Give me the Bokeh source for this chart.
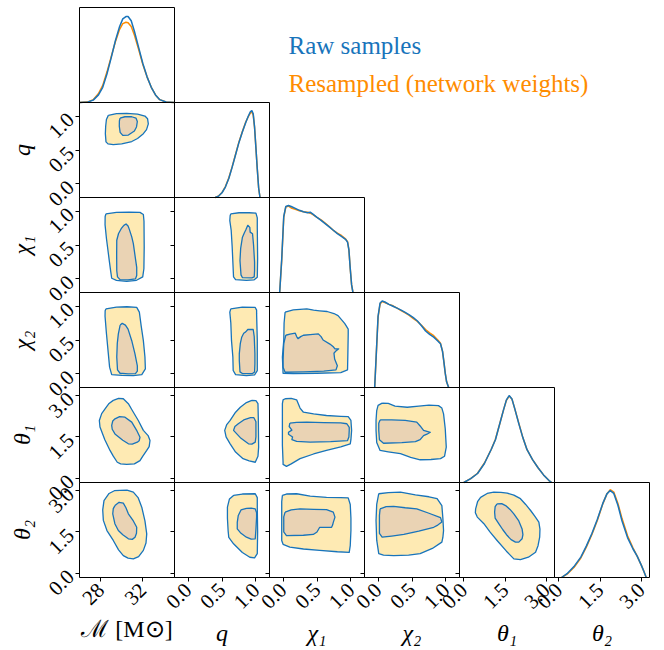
import math
from bokeh.plotting import figure
from bokeh.models import Range1d, LinearAxis, FixedTicker, PrintfTickFormatter, Label
from bokeh.embed import file_html
from bokeh.resources import INLINE

# ---------------- data ----------------
param_labels = ["ℳ [M⊙]", "q", "χ₁", "χ₂", "θ₁", "θ₂"]
param_ranges = [(26.0, 35.0), (-0.2, 1.2), (-0.2, 1.2), (-0.2, 1.2), (-0.157, 3.299), (-0.157, 3.299)]
param_ticks = [[28, 32], [0.0, 0.5, 1.0], [0.0, 0.5, 1.0], [0.0, 0.5, 1.0], [0.0, 1.5, 3.0], [0.0, 1.5, 3.0]]
tick_formats = ["%d", "%.1f", "%.1f", "%.1f", "%.1f", "%.1f"]
legend_labels = ["Raw samples", "Resampled (network weights)"]

# 1D marginals (normalised height)
mc_grid = [26.0, 26.8, 27.3, 27.8, 28.2, 28.6, 29.0, 29.4, 29.8, 30.1, 30.4, 30.6, 30.9, 31.2, 31.6, 32.0, 32.4, 32.8, 33.2, 33.6, 34.2, 35.0]
mc_raw = [0.0, 0.005, 0.025, 0.08, 0.16, 0.30, 0.47, 0.65, 0.80, 0.88, 0.905, 0.905, 0.86, 0.75, 0.58, 0.41, 0.27, 0.16, 0.08, 0.03, 0.005, 0.0]
mc_resampled = [0.0, 0.007, 0.03, 0.095, 0.18, 0.32, 0.48, 0.64, 0.77, 0.83, 0.845, 0.84, 0.80, 0.71, 0.56, 0.40, 0.27, 0.16, 0.08, 0.03, 0.005, 0.0]

q_grid = [0.40, 0.45, 0.50, 0.55, 0.60, 0.65, 0.70, 0.75, 0.80, 0.85, 0.89, 0.92, 0.94, 0.96, 0.98, 1.00, 1.02, 1.04, 1.06]
q_raw = [0.0, 0.015, 0.05, 0.11, 0.20, 0.32, 0.45, 0.58, 0.69, 0.79, 0.86, 0.905, 0.915, 0.88, 0.74, 0.52, 0.30, 0.10, 0.0]
q_resampled = [0.0, 0.016, 0.052, 0.115, 0.205, 0.325, 0.455, 0.585, 0.695, 0.795, 0.855, 0.89, 0.90, 0.87, 0.735, 0.52, 0.30, 0.10, 0.0]

chi1_grid = [-0.05, -0.02, 0.01, 0.04, 0.08, 0.12, 0.18, 0.24, 0.30, 0.36, 0.40, 0.44, 0.50, 0.56, 0.62, 0.68, 0.74, 0.80, 0.86, 0.92, 0.95, 0.97, 0.99, 1.01, 1.03]
chi1_raw = [0.0, 0.35, 0.80, 0.905, 0.915, 0.905, 0.885, 0.865, 0.85, 0.84, 0.845, 0.825, 0.79, 0.76, 0.725, 0.69, 0.655, 0.62, 0.59, 0.56, 0.53, 0.45, 0.25, 0.08, 0.0]
chi1_resampled = [0.0, 0.34, 0.79, 0.90, 0.91, 0.89, 0.875, 0.86, 0.85, 0.845, 0.835, 0.82, 0.79, 0.765, 0.73, 0.695, 0.655, 0.625, 0.60, 0.565, 0.535, 0.45, 0.25, 0.08, 0.0]

chi2_grid = [-0.05, -0.03, 0.0, 0.03, 0.06, 0.10, 0.16, 0.22, 0.28, 0.34, 0.40, 0.46, 0.52, 0.58, 0.64, 0.70, 0.76, 0.82, 0.88, 0.92, 0.95, 0.97, 0.99, 1.01, 1.04]
chi2_raw = [0.0, 0.30, 0.75, 0.89, 0.91, 0.90, 0.875, 0.855, 0.835, 0.815, 0.79, 0.765, 0.735, 0.70, 0.65, 0.595, 0.56, 0.53, 0.49, 0.46, 0.38, 0.27, 0.15, 0.06, 0.0]
chi2_resampled = [0.0, 0.29, 0.74, 0.88, 0.905, 0.895, 0.875, 0.86, 0.835, 0.81, 0.785, 0.76, 0.725, 0.695, 0.655, 0.61, 0.575, 0.545, 0.50, 0.465, 0.38, 0.27, 0.15, 0.06, 0.0]

theta1_grid = [0.0, 0.25, 0.5, 0.75, 1.0, 1.15, 1.3, 1.45, 1.55, 1.65, 1.75, 1.85, 2.0, 2.15, 2.3, 2.5, 2.7, 2.9, 3.1, 3.2]
theta1_raw = [0.0, 0.04, 0.095, 0.20, 0.35, 0.45, 0.61, 0.77, 0.87, 0.915, 0.88, 0.78, 0.62, 0.47, 0.345, 0.24, 0.155, 0.08, 0.02, 0.0]
theta1_resampled = [0.0, 0.04, 0.097, 0.205, 0.35, 0.455, 0.61, 0.77, 0.865, 0.91, 0.88, 0.78, 0.625, 0.47, 0.345, 0.24, 0.155, 0.08, 0.02, 0.0]

theta2_grid = [0.1, 0.3, 0.55, 0.8, 1.0, 1.2, 1.4, 1.6, 1.75, 1.87, 2.0, 2.15, 2.3, 2.5, 2.7, 2.85, 3.0, 3.1, 3.18]
theta2_raw = [0.0, 0.04, 0.115, 0.215, 0.33, 0.46, 0.61, 0.78, 0.88, 0.915, 0.885, 0.76, 0.595, 0.42, 0.30, 0.225, 0.13, 0.06, 0.0]
theta2_resampled = [0.0, 0.035, 0.105, 0.205, 0.32, 0.45, 0.60, 0.775, 0.88, 0.925, 0.90, 0.78, 0.62, 0.44, 0.31, 0.225, 0.13, 0.06, 0.0]

# 2D credible contours (x, y) - outer and inner levels
q_mc_outer = [(28.73, 1.01), (29.5, 1.035), (30.47, 1.04), (31.5, 1.03), (32.2, 1.0), (32.45, 0.96), (32.52, 0.885), (32.35, 0.80), (32.05, 0.74), (31.5, 0.67), (30.95, 0.625), (30.0, 0.59), (29.2, 0.58), (28.7, 0.59), (28.51, 0.62), (28.45, 0.74), (28.48, 0.85), (28.55, 0.95)]
q_mc_inner = [(29.84, 0.97), (30.3, 0.99), (30.95, 0.99), (31.35, 0.97), (31.48, 0.92), (31.4, 0.84), (31.2, 0.78), (30.63, 0.72), (30.1, 0.715), (29.85, 0.76), (29.77, 0.85), (29.78, 0.93)]

chi1_mc_outer = [(28.51, 0.96), (29.5, 0.98), (30.7, 0.985), (31.73, 0.98), (32.05, 0.95), (32.11, 0.85), (32.13, 0.47), (32.1, 0.15), (31.99, 0.03), (31.4, -0.02), (30.47, -0.035), (29.5, -0.02), (29.05, 0.01), (28.95, 0.12), (28.82, 0.27), (28.55, 0.60), (28.42, 0.80), (28.43, 0.92)]
chi1_mc_inner = [(30.2, 0.79), (30.41, 0.81), (30.6, 0.78), (30.72, 0.73), (30.95, 0.62), (31.1, 0.52), (31.3, 0.30), (31.42, 0.17), (31.42, 0.05), (31.3, 0.0), (30.6, -0.015), (29.84, -0.01), (29.6, 0.03), (29.53, 0.12), (29.52, 0.35), (29.53, 0.57), (29.7, 0.67), (29.95, 0.74)]
chi1_q_outer = [(0.63, 0.96), (0.75, 0.975), (0.90, 0.975), (1.0, 0.97), (1.02, 0.90), (1.02, 0.76), (1.025, 0.30), (1.02, 0.025), (0.97, -0.015), (0.86, -0.02), (0.70, -0.01), (0.67, 0.03), (0.66, 0.25), (0.65, 0.47), (0.635, 0.72), (0.615, 0.86), (0.62, 0.93)]
chi1_q_inner = [(0.85, 0.72), (0.88, 0.79), (0.91, 0.76), (0.915, 0.69), (0.95, 0.665), (0.965, 0.50), (0.98, 0.25), (0.98, 0.12), (0.975, 0.03), (0.94, 0.016), (0.80, 0.02), (0.78, 0.06), (0.765, 0.27), (0.775, 0.45), (0.80, 0.61), (0.83, 0.68)]

chi2_mc_outer = [(28.51, 0.96), (29.5, 0.985), (30.5, 0.99), (31.42, 0.98), (31.67, 0.91), (31.85, 0.70), (32.05, 0.49), (32.2, 0.25), (32.24, 0.075), (31.9, -0.01), (31.1, -0.025), (30.0, -0.02), (29.05, -0.01), (28.85, 0.10), (28.73, 0.30), (28.55, 0.60), (28.42, 0.85), (28.43, 0.93)]
chi2_mc_inner = [(29.85, 0.72), (30.05, 0.745), (30.35, 0.72), (30.6, 0.66), (30.95, 0.49), (31.25, 0.30), (31.48, 0.12), (31.48, 0.04), (31.3, 0.005), (30.6, 0.0), (29.84, 0.01), (29.6, 0.06), (29.53, 0.25), (29.58, 0.45), (29.68, 0.59)]
chi2_q_outer = [(0.63, 0.96), (0.80, 0.985), (0.99, 0.98), (1.01, 0.94), (1.01, 0.885), (1.02, 0.50), (1.02, 0.05), (0.98, -0.015), (0.86, -0.025), (0.70, -0.01), (0.665, 0.05), (0.66, 0.25), (0.64, 0.49), (0.63, 0.75), (0.615, 0.91)]
chi2_q_inner = [(0.85, 0.62), (0.88, 0.655), (0.96, 0.655), (0.975, 0.55), (0.985, 0.30), (0.985, 0.15), (0.98, 0.03), (0.95, 0.005), (0.80, 0.005), (0.765, 0.03), (0.755, 0.20), (0.755, 0.30), (0.77, 0.45), (0.79, 0.54), (0.82, 0.60)]
chi2_chi1_outer = [(0.03, 0.91), (0.15, 0.945), (0.35, 0.96), (0.45, 0.94), (0.54, 0.93), (0.65, 0.92), (0.75, 0.89), (0.81, 0.86), (0.87, 0.79), (0.91, 0.74), (0.96, 0.66), (0.96, 0.59), (0.955, 0.30), (0.95, 0.06), (0.85, 0.02), (0.50, 0.01), (0.15, 0.005), (0.0, 0.01), (-0.01, 0.25), (0.01, 0.49), (0.015, 0.75)]
chi2_chi1_inner = [(0.04, 0.57), (0.10, 0.585), (0.18, 0.60), (0.20, 0.55), (0.22, 0.52), (0.26, 0.55), (0.30, 0.57), (0.40, 0.58), (0.52, 0.59), (0.56, 0.55), (0.59, 0.50), (0.69, 0.44), (0.74, 0.40), (0.765, 0.37), (0.82, 0.37), (0.77, 0.33), (0.75, 0.305), (0.76, 0.22), (0.80, 0.12), (0.78, 0.06), (0.60, 0.04), (0.30, 0.03), (0.03, 0.025), (0.0, 0.10), (0.0, 0.20), (0.01, 0.45)]

theta1_mc_outer = [(29.2, 2.83), (29.7, 2.90), (30.15, 2.89), (30.63, 2.71), (30.95, 2.50), (31.57, 2.10), (32.05, 1.74), (32.5, 1.55), (32.68, 1.37), (32.6, 1.15), (32.37, 1.01), (32.0, 0.80), (31.73, 0.64), (31.2, 0.52), (30.47, 0.50), (29.9, 0.52), (29.58, 0.58), (29.2, 0.80), (28.89, 1.01), (28.4, 1.40), (27.94, 1.86), (27.88, 2.10), (28.1, 2.35), (28.42, 2.52), (28.8, 2.72)]
theta1_mc_inner = [(29.36, 2.16), (29.8, 2.24), (30.31, 2.22), (30.95, 2.04), (31.4, 1.75), (31.73, 1.49), (31.65, 1.36), (31.48, 1.31), (31.0, 1.24), (30.63, 1.25), (30.1, 1.38), (29.36, 1.61), (29.1, 1.78), (29.05, 1.92), (29.15, 2.08)]
theta1_q_outer = [(0.94, 2.83), (1.0, 2.82), (1.03, 2.71), (1.035, 2.20), (1.04, 1.13), (1.03, 0.80), (0.99, 0.58), (0.90, 0.63), (0.81, 0.71), (0.70, 0.95), (0.62, 1.25), (0.56, 1.50), (0.54, 1.74), (0.57, 1.95), (0.62, 2.10), (0.70, 2.40), (0.77, 2.58), (0.86, 2.75)]
theta1_q_inner = [(0.74, 1.98), (0.82, 2.12), (0.92, 2.20), (0.97, 2.20), (1.0, 2.05), (1.0, 1.86), (1.0, 1.50), (0.99, 1.31), (0.94, 1.24), (0.89, 1.25), (0.78, 1.45), (0.67, 1.74), (0.69, 1.88)]
theta1_chi1_outer = [(0.03, 2.89), (0.12, 2.90), (0.20, 2.85), (0.25, 2.55), (0.30, 2.40), (0.45, 2.34), (0.64, 2.28), (0.85, 2.25), (0.96, 2.24), (1.0, 2.10), (1.01, 1.74), (1.0, 1.40), (0.99, 1.25), (0.85, 1.14), (0.64, 1.01), (0.45, 0.88), (0.25, 0.71), (0.12, 0.52), (0.05, 0.43), (0.0, 0.50), (0.0, 0.58), (-0.01, 1.20), (-0.01, 1.74), (-0.01, 2.30), (-0.01, 2.71), (0.0, 2.85)]
theta1_chi1_inner = [(0.10, 2.0), (0.20, 2.03), (0.35, 2.04), (0.60, 2.02), (0.85, 2.01), (0.94, 1.98), (0.975, 1.85), (0.975, 1.74), (0.97, 1.50), (0.95, 1.37), (0.70, 1.33), (0.40, 1.31), (0.20, 1.34), (0.13, 1.40), (0.14, 1.50), (0.08, 1.60), (0.08, 1.67), (0.13, 1.75), (0.09, 1.88)]
theta1_chi2_outer = [(0.06, 2.73), (0.15, 2.72), (0.25, 2.62), (0.43, 2.58), (0.60, 2.62), (0.75, 2.66), (0.89, 2.64), (0.94, 2.55), (0.965, 2.34), (0.99, 1.80), (1.005, 1.13), (0.98, 0.80), (0.92, 0.71), (0.78, 0.68), (0.62, 0.67), (0.48, 0.76), (0.33, 0.89), (0.15, 0.96), (0.03, 1.01), (-0.02, 1.30), (-0.03, 1.74), (-0.03, 2.10), (-0.02, 2.46), (0.0, 2.65)]
theta1_chi2_inner = [(0.03, 2.12), (0.20, 2.12), (0.40, 2.10), (0.57, 2.04), (0.62, 1.90), (0.67, 1.74), (0.77, 1.67), (0.72, 1.60), (0.67, 1.55), (0.62, 1.40), (0.55, 1.33), (0.35, 1.29), (0.08, 1.27), (0.02, 1.40), (0.01, 1.74), (0.01, 2.00)]

theta2_mc_outer = [(29.84, 3.01), (30.5, 3.02), (31.1, 2.95), (31.55, 2.75), (31.9, 2.40), (32.2, 1.90), (32.37, 1.43), (32.3, 1.10), (32.05, 0.83), (31.6, 0.60), (31.1, 0.52), (30.6, 0.55), (30.15, 0.64), (29.7, 0.85), (29.2, 1.19), (28.6, 1.55), (28.26, 1.92), (28.2, 2.30), (28.32, 2.64), (28.8, 2.90), (29.3, 3.0)]
theta2_mc_inner = [(29.36, 2.46), (29.75, 2.58), (30.15, 2.55), (30.4, 2.38), (30.63, 2.16), (31.1, 1.90), (31.42, 1.67), (31.4, 1.45), (31.26, 1.31), (31.0, 1.23), (30.63, 1.25), (30.1, 1.40), (29.68, 1.55), (29.35, 1.80), (29.15, 2.16), (29.2, 2.35)]
theta2_q_outer = [(0.67, 2.83), (0.80, 2.88), (0.99, 2.89), (1.02, 2.75), (1.02, 2.40), (1.025, 1.50), (1.02, 0.71), (0.98, 0.56), (0.91, 0.58), (0.80, 0.75), (0.67, 1.07), (0.60, 1.30), (0.59, 1.55), (0.58, 2.00), (0.58, 2.40), (0.61, 2.70)]
theta2_q_inner = [(0.86, 2.36), (0.93, 2.37), (0.99, 2.34), (1.01, 2.20), (1.01, 2.04), (1.0, 1.60), (0.99, 1.25), (0.93, 1.24), (0.86, 1.31), (0.78, 1.45), (0.725, 1.61), (0.725, 1.85), (0.74, 2.10), (0.78, 2.30)]
theta2_chi1_outer = [(-0.01, 2.83), (0.05, 2.88), (0.20, 2.89), (0.40, 2.80), (0.64, 2.76), (0.85, 2.75), (0.96, 2.74), (0.99, 2.50), (1.0, 2.00), (1.0, 1.55), (0.99, 1.00), (0.975, 0.76), (0.80, 0.78), (0.54, 0.83), (0.30, 0.88), (0.10, 0.95), (0.0, 1.05), (-0.02, 1.19), (-0.02, 1.70), (-0.02, 2.16), (-0.02, 2.60)]
theta2_chi1_inner = [(0.03, 2.22), (0.12, 2.30), (0.25, 2.34), (0.45, 2.32), (0.64, 2.31), (0.74, 2.22), (0.765, 2.04), (0.74, 1.85), (0.73, 1.75), (0.715, 1.67), (0.60, 1.67), (0.54, 1.67), (0.50, 1.50), (0.445, 1.41), (0.30, 1.38), (0.05, 1.37), (0.01, 1.50), (0.01, 1.80), (0.01, 2.05)]
theta2_chi2_outer = [(0.01, 2.89), (0.15, 2.93), (0.33, 2.95), (0.55, 2.85), (0.75, 2.78), (0.87, 2.71), (0.94, 2.46), (0.955, 2.00), (0.965, 1.55), (0.955, 1.30), (0.94, 1.13), (0.80, 0.90), (0.62, 0.71), (0.45, 0.66), (0.23, 0.64), (0.08, 0.66), (0.01, 0.71), (-0.02, 1.20), (-0.03, 1.92), (-0.02, 2.50)]
theta2_chi2_inner = [(0.03, 2.34), (0.12, 2.42), (0.23, 2.43), (0.40, 2.38), (0.57, 2.34), (0.75, 2.18), (0.92, 2.02), (0.94, 1.86), (0.88, 1.75), (0.82, 1.67), (0.60, 1.53), (0.38, 1.41), (0.20, 1.35), (0.06, 1.31), (0.02, 1.45), (0.02, 1.80), (0.02, 2.10)]
theta2_theta1_outer = [(0.61, 2.76), (0.85, 2.90), (1.09, 2.95), (1.35, 2.94), (1.58, 2.91), (1.82, 2.84), (2.06, 2.71), (2.25, 2.50), (2.43, 2.28), (2.60, 2.05), (2.73, 1.86), (2.77, 1.60), (2.76, 1.31), (2.70, 1.00), (2.61, 0.76), (2.35, 0.58), (2.06, 0.49), (1.82, 0.52), (1.55, 0.80), (1.21, 1.19), (0.95, 1.50), (0.73, 1.80), (0.49, 2.04), (0.42, 2.20), (0.43, 2.34), (0.50, 2.60)]
theta2_theta1_inner = [(1.21, 2.52), (1.38, 2.53), (1.52, 2.46), (1.68, 2.32), (1.82, 2.16), (2.00, 1.90), (2.12, 1.61), (2.15, 1.40), (2.12, 1.25), (2.00, 1.13), (1.88, 1.13), (1.72, 1.22), (1.58, 1.37), (1.42, 1.58), (1.27, 1.80), (1.14, 2.00), (1.12, 2.22), (1.14, 2.42)]

# ---------------- assembly ----------------
marginals = {
    0: (mc_grid, mc_raw, mc_resampled),
    1: (q_grid, q_raw, q_resampled),
    2: (chi1_grid, chi1_raw, chi1_resampled),
    3: (chi2_grid, chi2_raw, chi2_resampled),
    4: (theta1_grid, theta1_raw, theta1_resampled),
    5: (theta2_grid, theta2_raw, theta2_resampled),
}
contours = {
    (1, 0): (q_mc_outer, q_mc_inner),
    (2, 0): (chi1_mc_outer, chi1_mc_inner), (2, 1): (chi1_q_outer, chi1_q_inner),
    (3, 0): (chi2_mc_outer, chi2_mc_inner), (3, 1): (chi2_q_outer, chi2_q_inner), (3, 2): (chi2_chi1_outer, chi2_chi1_inner),
    (4, 0): (theta1_mc_outer, theta1_mc_inner), (4, 1): (theta1_q_outer, theta1_q_inner),
    (4, 2): (theta1_chi1_outer, theta1_chi1_inner), (4, 3): (theta1_chi2_outer, theta1_chi2_inner),
    (5, 0): (theta2_mc_outer, theta2_mc_inner), (5, 1): (theta2_q_outer, theta2_q_inner),
    (5, 2): (theta2_chi1_outer, theta2_chi1_inner), (5, 3): (theta2_chi2_outer, theta2_chi2_inner),
    (5, 4): (theta2_theta1_outer, theta2_theta1_inner),
}

BLUE = "#1874bb"
ORANGE = "#ff8c00"
FILL_OUTER = "#feeab3"
FILL_INNER = "#ead3b4"
FONT = "Liberation Serif"
W, H = 664, 650
PANEL = 95
X0, Y0 = 79, 7          # top-left corner of the panel grid (pixels)
N = 6
DIAG_RANGE = (0.0, 1.0)

p = figure(width=W, height=H, x_range=Range1d(0, W), y_range=Range1d(H, 0),
           x_axis_location=None, y_axis_location=None,
           output_backend="svg", toolbar_location=None, min_border=0)
p.grid.visible = False
p.outline_line_color = None
p.background_fill_color = "white"
p.border_fill_color = "white"


def panel_range(lo, hi, offset_px, total_px):
    """Range whose [lo, hi] occupies PANEL pixels starting offset_px from the frame start."""
    per_px = (hi - lo) / PANEL
    start = lo - offset_px * per_px
    return Range1d(start, start + total_px * per_px)


for c in range(N):
    p.extra_x_ranges["x%d" % c] = panel_range(*param_ranges[c], X0 + c * PANEL, W)
for r in range(N):
    bottom_gap = H - (Y0 + (r + 1) * PANEL)
    p.extra_y_ranges["y%d" % r] = panel_range(*param_ranges[r], bottom_gap, H)
    p.extra_y_ranges["d%d" % r] = panel_range(*DIAG_RANGE, bottom_gap, H)


def make_axis(idx, xname, yname, loc, bounds, labelled, label_standoff):
    ax = LinearAxis(
        x_range_name=xname, y_range_name=yname, fixed_location=loc, bounds=bounds,
        ticker=FixedTicker(ticks=param_ticks[idx]),
        formatter=PrintfTickFormatter(format=tick_formats[idx]),
        major_label_orientation=math.pi / 4,
        major_label_text_font=FONT,
        major_label_text_font_size="21px",
        major_label_text_color="black",
        major_label_standoff=5,
        major_tick_out=4, major_tick_in=0,
        minor_tick_out=0, minor_tick_in=0,
        major_tick_line_color="black",
        axis_line_color=None,
    )
    if labelled:
        ax.axis_label = param_labels[idx]
        ax.axis_label_text_font = FONT
        ax.axis_label_text_font_size = "24px"
        ax.axis_label_text_color = "black"
        ax.axis_label_text_font_style = "normal" if idx == 0 else "italic"
        ax.axis_label_standoff = label_standoff
    else:
        ax.major_label_text_color = None
    return ax


for r in range(N):
    for c in range(r + 1):
        xname = "x%d" % c
        yname = ("d%d" % r) if r == c else ("y%d" % r)
        ylo, yhi = DIAG_RANGE if r == c else param_ranges[r]
        xlo, xhi = param_ranges[c]
        kw = dict(x_range_name=xname, y_range_name=yname)
        if r == c:
            grid, raw, res = marginals[c]
            p.line(grid, res, line_color=ORANGE, line_width=1.5, **kw)
            p.line(grid, raw, line_color=BLUE, line_width=1.5, **kw)
        else:
            outer, inner = contours[(r, c)]
            ox = [pt[0] for pt in outer]
            oy = [pt[1] for pt in outer]
            ix = [pt[0] for pt in inner]
            iy = [pt[1] for pt in inner]
            p.patch(ox, oy, fill_color=FILL_OUTER, line_color=None, **kw)
            p.patch(ix, iy, fill_color=FILL_INNER, line_color=None, **kw)
            p.line(ox + ox[:1], oy + oy[:1], line_color=BLUE, line_width=1.3, line_join="round", **kw)
            p.line(ix + ix[:1], iy + iy[:1], line_color=BLUE, line_width=1.3, line_join="round", **kw)
            # y ticks on the left edge of every off-diagonal panel
            p.add_layout(make_axis(r, xname, yname, xlo, (ylo, yhi), c == 0, 4), "left")
        # panel frame
        p.quad(left=[xlo], right=[xhi], bottom=[ylo], top=[yhi], fill_color=None,
               line_color="black", line_width=1, **kw)
        if r == N - 1:
            p.add_layout(make_axis(c, xname, yname, ylo, (xlo, xhi), True, 2), "below")

p.add_layout(Label(x=288, y=45, text=legend_labels[0], text_color=BLUE, text_font=FONT,
                   text_font_size="25px", text_baseline="alphabetic"))
p.add_layout(Label(x=288, y=83, text=legend_labels[1], text_color=ORANGE, text_font=FONT,
                   text_font_size="25px", text_baseline="alphabetic"))

open("out.html", "w").write(file_html(p, INLINE))
